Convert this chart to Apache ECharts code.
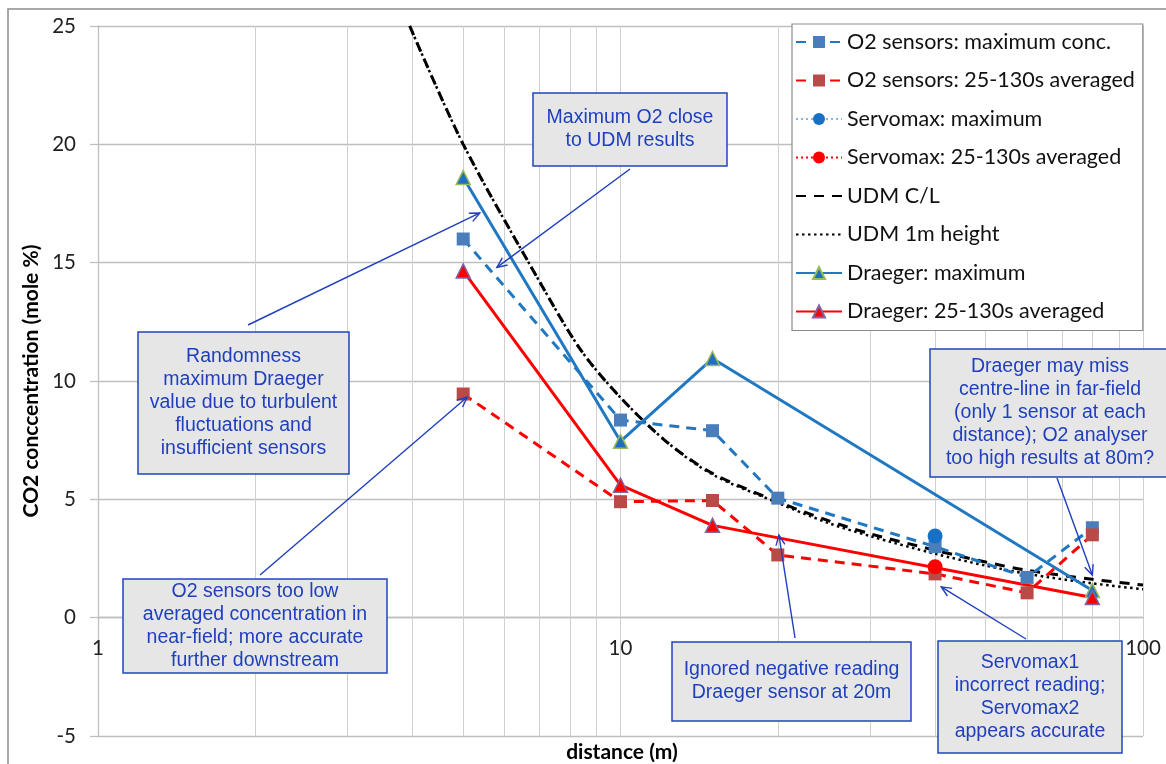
<!DOCTYPE html>
<html><head><meta charset="utf-8">
<script src="https://cdn.jsdelivr.net/npm/echarts@6/dist/echarts.min.js"></script>
<style>html,body{margin:0;padding:0;background:#fff}#c{width:1166px;height:764px}</style>
</head><body><div id="c"></div>
<script>
// ---- data ----
const yTicks = [-5, 0, 5, 10, 15, 20, 25];
const xMinorGrid = [2, 3, 4, 5, 6, 7, 8, 9, 20, 30, 40, 50, 60, 70, 80, 90];

const distO2 = [5, 10, 15, 20, 40, 60, 80];
const o2Max = [16.0, 8.35, 7.9, 5.05, 3.0, 1.7, 3.8];
const o2Avg = [9.45, 4.9, 4.95, 2.65, 1.85, 1.05, 3.5];

const distServo = [40];
const servoMax = [3.45];
const servoAvg = [2.15];

const distUdm = [3.95, 5, 7, 8.4, 10, 12.3, 15, 20, 25, 30, 40, 50, 60, 80, 100];
const udmCL = [25.0, 20.0, 14.2, 11.3, 9.3, 7.4, 6.1, 4.9, 4.1, 3.55, 2.85, 2.35, 2.0, 1.62, 1.38];
const udm1m = [25.0, 20.0, 14.2, 11.3, 9.3, 7.4, 6.05, 4.85, 4.0, 3.45, 2.7, 2.2, 1.85, 1.45, 1.2];

const distDraeger = [5, 10, 15, 80];
const draegerMax = [18.6, 7.45, 10.95, 1.15];
const draegerAvg = [14.65, 5.6, 3.9, 0.85];

const seriesNames = ['O2 sensors: maximum conc.', 'O2 sensors: 25-130s averaged', 'Servomax: maximum',
  'Servomax: 25-130s averaged', 'UDM C/L', 'UDM 1m height', 'Draeger: maximum', 'Draeger: 25-130s averaged'];

const notes = [
  { box: [533, 93, 194, 73], lines: ['Maximum O2 close', 'to UDM results'], from: [630, 169], to: [5.8, 14.8] },
  { box: [138, 332, 211, 142], lines: ['Randomness', 'maximum Draeger', 'value due to turbulent', 'fluctuations and', 'insufficient sensors'], from: [248, 325], to: [5.38, 17.1] },
  { box: [123, 579, 264, 94], lines: ['O2 sensors too low', 'averaged concentration in', 'near-field; more accurate', 'further downstream'], from: [260, 575], to: [5.09, 9.32] },
  { box: [672, 642, 239, 79], lines: ['Ignored negative reading', 'Draeger sensor at 20m'], from: [795, 638], to: [20.1, 3.49] },
  { box: [938, 641, 184, 112], lines: ['Servomax1', 'incorrect reading;', 'Servomax2', 'appears accurate'], from: [1026, 639], to: [41.1, 1.3] },
  { box: [930, 349, 240, 128], lines: ['Draeger may miss', 'centre-line in far-field', '(only 1 sensor at each', 'distance); O2 analyser', 'too high results at 80m?'], from: [1057, 478], to: [80, 1.8] }
];

const zip = (xs, ys) => xs.map((x, i) => [x, ys[i]]);
const FONT = 'Lato, "Open Sans", sans-serif';
const BLUE = '#1f78c1';

const chart = echarts.init(document.getElementById('c'), null, { renderer: 'canvas' });

const option = {
  animation: false,
  backgroundColor: '#fff',
  grid: { left: 98, top: 26, right: 23, bottom: 28, containLabel: false, outerBoundsMode: 'none' },
  xAxis: {
    type: 'log', logBase: 10, min: 1, max: 100,
    offset: -118.3,
    axisLine: { show: true, onZero: false, lineStyle: { color: '#bfbfbf', width: 1.3 } },
    axisTick: { show: false },
    axisLabel: { fontFamily: FONT, fontSize: 20.5, color: '#222', margin: 20 },
    splitLine: { show: true, lineStyle: { color: '#d0d0d0', width: 1 } }
  },
  yAxis: {
    type: 'value', min: yTicks[0], max: yTicks[yTicks.length - 1], interval: 5,
    name: 'CO2 conccentration (mole %)', nameLocation: 'middle', nameRotate: 90, nameGap: 43,
    nameTextStyle: { fontFamily: FONT, fontSize: 21, fontWeight: 'bold', color: '#000' },
    axisLine: { show: true, lineStyle: { color: '#bfbfbf', width: 1.3 } },
    axisTick: { show: true, length: 8, lineStyle: { color: '#bfbfbf', width: 1.3 } },
    axisLabel: { fontFamily: FONT, fontSize: 20.5, color: '#222', margin: 22 },
    splitLine: { show: true, lineStyle: { color: '#bfbfbf', width: 1.3 } }
  },
  legend: {
    orient: 'vertical', left: 792, top: 24,
    padding: [6, 8, 7, 3],
    backgroundColor: '#fff', borderColor: '#8c8c8c', borderWidth: 1.2,
    itemWidth: 46, itemHeight: 15, itemGap: 14.5,
    textStyle: { fontFamily: FONT, fontSize: 21.5, color: '#111', lineHeight: 24 },
    data: seriesNames.map((n, i) => (i === 4 || i === 5) ? { name: n, itemStyle: { opacity: 0 } } : { name: n })
  },
  series: [
    {
      name: seriesNames[0], type: 'line', data: zip(distO2, o2Max), z: 3,
      symbol: 'rect', symbolSize: 13,
      itemStyle: { color: '#4a7ebb' },
      lineStyle: { color: BLUE, width: 3, type: [10, 7] }
    },
    {
      name: seriesNames[1], type: 'line', data: zip(distO2, o2Avg), z: 3,
      symbol: 'rect', symbolSize: 13,
      itemStyle: { color: '#b94a48' },
      lineStyle: { color: '#ff0000', width: 3, type: [10, 7] }
    },
    {
      name: seriesNames[2], type: 'line', data: zip(distServo, servoMax), z: 4,
      symbol: 'circle', symbolSize: 15,
      itemStyle: { color: '#1570c6' },
      lineStyle: { color: '#8db3e2', width: 2, type: [2, 3] }
    },
    {
      name: seriesNames[3], type: 'line', data: zip(distServo, servoAvg), z: 4,
      symbol: 'circle', symbolSize: 15,
      itemStyle: { color: '#ff0000' },
      lineStyle: { color: '#ff0000', width: 2, type: [2, 3] }
    },
    {
      name: seriesNames[4], type: 'line', data: zip(distUdm, udmCL), z: 2,
      symbol: 'none', smooth: 0.3,
      itemStyle: { color: '#000' },
      lineStyle: { color: '#000', width: 3, type: [10, 8] }
    },
    {
      name: seriesNames[5], type: 'line', data: zip(distUdm, udm1m), z: 2,
      symbol: 'none', smooth: 0.3,
      itemStyle: { color: '#000' },
      lineStyle: { color: '#000', width: 2.5, type: [2.5, 3.5] },
      markLine: {
        silent: true, symbol: 'none', z: 1, animation: false,
        label: { show: false },
        lineStyle: { color: '#d0d0d0', width: 1, type: 'solid' },
        emphasis: { disabled: true },
        data: xMinorGrid.map(v => ({ xAxis: v }))
      }
    },
    {
      name: seriesNames[6], type: 'line', data: zip(distDraeger, draegerMax), z: 3,
      symbol: 'triangle', symbolSize: 14,
      itemStyle: { color: '#1f6fc0', borderColor: '#9bbb59', borderWidth: 1.5 },
      lineStyle: { color: BLUE, width: 3, type: 'solid' }
    },
    {
      name: seriesNames[7], type: 'line', data: zip(distDraeger, draegerAvg), z: 3,
      symbol: 'triangle', symbolSize: 14,
      itemStyle: { color: '#ff0000', borderColor: '#8064a2', borderWidth: 1.5 },
      lineStyle: { color: '#ff0000', width: 3, type: 'solid' }
    }
  ]
};
chart.setOption(option);

// ---- annotations ----
const g = [];
g.push({ type: 'rect', z: 0, silent: true, shape: { x: 8, y: 9, width: 1180, height: 790 },
  style: { fill: 'none', stroke: '#8c8c8c', lineWidth: 1.5 } });
g.push({ type: 'text', z: 100, silent: true,
  style: { text: 'distance (m)', x: 622, y: 752, align: 'center', verticalAlign: 'middle',
    font: 'bold 21px ' + FONT, fill: '#000' } });
notes.forEach(n => {
  const [bx, by, bw, bh] = n.box;
  const tip = chart.convertToPixel({ gridIndex: 0 }, n.to);
  const [sx, sy] = n.from;
  const ang = Math.atan2(sy - tip[1], sx - tip[0]);
  const L = 11, a = 0.42;
  g.push({ type: 'line', z: 100, silent: true, shape: { x1: sx, y1: sy, x2: tip[0], y2: tip[1] },
    style: { stroke: '#1f3fbf', lineWidth: 1.4 } });
  g.push({ type: 'polyline', z: 100, silent: true,
    shape: { points: [[tip[0] + L * Math.cos(ang + a), tip[1] + L * Math.sin(ang + a)], tip,
      [tip[0] + L * Math.cos(ang - a), tip[1] + L * Math.sin(ang - a)]] },
    style: { stroke: '#1f3fbf', lineWidth: 1.4, fill: 'none' } });
  g.push({ type: 'rect', z: 101, silent: true, shape: { x: bx, y: by, width: bw, height: bh },
    style: { fill: '#e6e6e6', stroke: '#2145c0', lineWidth: 1.5 } });
  g.push({ type: 'text', z: 102, silent: true,
    style: { text: n.lines.join('\n'), x: bx + bw / 2, y: by + bh / 2, align: 'center', verticalAlign: 'middle',
      font: '19.5px "Liberation Sans", Arial, sans-serif', fill: '#1f3fbf', lineHeight: 23 } });
});
chart.setOption({ graphic: g });
</script>
</body></html>
